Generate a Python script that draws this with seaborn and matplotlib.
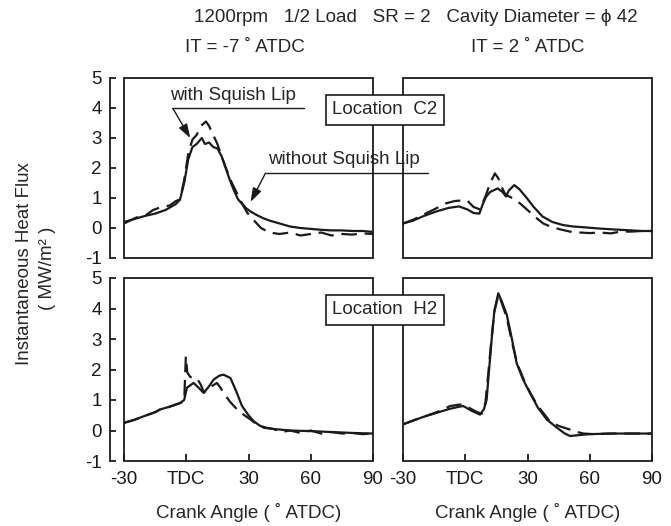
import numpy as np
import pandas as pd
import seaborn as sns
import matplotlib.pyplot as plt
from matplotlib.patches import Rectangle

sns.set_theme(style="white")
plt.rcParams['font.family'] = ['Liberation Sans', 'DejaVu Sans']

# ---- data (crank angle in deg ATDC, heat flux MW/m2) ----
# top-left: IT = -7 ATDC, location C2
c2_a_x_without = [-30, -25, -20, -15, -10, -5, -3, -1, 1, 3, 5, 7.5, 9, 11, 13, 15, 17, 19, 21, 23, 25, 27, 29, 31,
                  34, 37, 40, 45, 50, 55, 60, 65, 70, 75, 80, 85, 90]
c2_a_y_without = [0.2, 0.3, 0.4, 0.48, 0.6, 0.8, 0.95, 1.5, 2.3, 2.7, 2.8, 3.0, 2.8, 2.85, 2.7, 2.65, 2.4, 2.0, 1.6,
                  1.25, 0.95, 0.8, 0.65, 0.55, 0.43, 0.33, 0.25, 0.15, 0.05, 0.0, -0.03, -0.06, -0.08, -0.08, -0.1,
                  -0.1, -0.13]
c2_a_x_with = [-30, -27, -24, -20, -16, -12, -8, -5, -3, -1, 1, 3, 5, 7, 9.5, 11, 13, 15, 17, 19.5, 22, 24.5, 27, 29.5,
               32, 36, 40, 45, 50, 55, 60, 65, 70, 75, 80, 85, 90]
c2_a_y_with = [0.15, 0.25, 0.35, 0.4, 0.6, 0.7, 0.75, 0.9, 0.95, 1.6, 2.5, 2.95, 3.1, 3.4, 3.55, 3.4, 3.1, 2.8, 2.4,
               1.93, 1.5, 1.15, 0.8, 0.5, 0.3, 0.0, -0.15, -0.2, -0.15, -0.25, -0.2, -0.15, -0.25, -0.2, -0.22,
               -0.18, -0.2]

# top-right: IT = 2 ATDC, location C2
c2_b_x_without = [-30, -25, -20, -14, -8, -3, 1, 4, 6.8, 8.5, 10, 12, 15.6, 18, 19.6, 21, 23.6, 26, 29.2, 33, 37.3,
                  42, 47, 52, 58, 65, 72, 80, 85, 90]
c2_b_y_without = [0.15, 0.25, 0.4, 0.55, 0.67, 0.72, 0.62, 0.5, 0.48, 0.8, 1.04, 1.2, 1.32, 1.2, 1.05, 1.25, 1.43,
                  1.3, 1.04, 0.7, 0.38, 0.2, 0.1, 0.05, 0.02, -0.02, -0.05, -0.08, -0.1, -0.1]
c2_b_x_with = [-30, -25, -20, -15, -9.4, -5, 0.7, 4, 7.1, 10, 12, 14.3, 16, 18, 19.5, 21.5, 24, 26.4, 30, 34, 37.6,
               42, 46, 50.5, 55, 60, 65, 70, 75, 80, 85, 90]
c2_b_y_with = [0.15, 0.28, 0.45, 0.62, 0.82, 0.9, 0.93, 0.7, 0.62, 1.1, 1.5, 1.82, 1.65, 1.3, 1.1, 1.04, 0.95, 0.82,
               0.6, 0.35, 0.15, 0.02, -0.05, -0.12, -0.15, -0.17, -0.15, -0.18, -0.12, -0.12, -0.1, -0.1]

# bottom-left: IT = -7 ATDC, location H2
h2_a_x_without = [-30, -25, -20, -15, -12.6, -8, -3, -1, 0.3, 3.5, 6, 8.4, 11, 13.2, 16, 18, 21.3, 24, 26.9, 30,
                  32.6, 35, 37.4, 42, 50, 60, 70, 80, 90]
h2_a_y_without = [0.25, 0.35, 0.48, 0.6, 0.69, 0.78, 0.9, 1.0, 1.4, 1.56, 1.4, 1.23, 1.45, 1.67, 1.8, 1.83, 1.72,
                  1.3, 0.8, 0.5, 0.3, 0.18, 0.09, 0.05, 0.0, -0.02, -0.05, -0.08, -0.1]
h2_a_x_with = [-30, -25, -20, -15, -12.6, -8, -3, -1, -0.2, 0.5, 2, 5.1, 7, 8.5, 11, 14.8, 16.5, 18, 21, 24.5, 28,
               31, 34, 38, 42, 46, 50, 55, 60, 65, 70, 75, 80, 85, 90]
h2_a_y_with = [0.25, 0.35, 0.48, 0.6, 0.69, 0.78, 0.9, 0.95, 2.43, 1.9, 1.75, 1.72, 1.5, 1.25, 1.4, 1.56, 1.4, 1.23,
               0.95, 0.69, 0.5, 0.36, 0.2, 0.1, 0.05, -0.05, 0.0, -0.08, 0.0, -0.1, -0.05, -0.1, -0.08, -0.12, -0.1]

# bottom-right: IT = 2 ATDC, location H2
h2_b_x_without = [-30, -25, -20, -13.8, -8, -3, -0.9, 3, 7.1, 9, 10.3, 11.5, 12.7, 14, 15.9, 17.5, 20, 22.5, 24.8,
                  28, 31.2, 35, 39.3, 44, 48, 50.5, 55, 60, 70, 80, 90]
h2_b_y_without = [0.2, 0.33, 0.45, 0.58, 0.7, 0.78, 0.8, 0.65, 0.52, 0.7, 1.01, 2.0, 2.97, 3.9, 4.5, 4.25, 3.8, 3.0,
                  2.2, 1.65, 1.23, 0.75, 0.36, 0.1, -0.1, -0.18, -0.15, -0.12, -0.1, -0.1, -0.1]
h2_b_x_with = [-30, -25, -20, -13.8, -7.3, -3, 0, 3, 5.8, 8, 9.7, 11, 12.5, 14, 16, 17.5, 20, 22.5, 25, 28, 31.2, 35,
               40.8, 45, 50.5, 54, 57, 62, 70, 80, 90]
h2_b_y_with = [0.2, 0.33, 0.45, 0.6, 0.8, 0.85, 0.83, 0.7, 0.6, 0.55, 0.9, 1.8, 2.9, 3.9, 4.45, 4.2, 3.7, 2.9, 2.2,
               1.7, 1.25, 0.8, 0.3, 0.15, 0.03, -0.05, -0.1, -0.12, -0.1, -0.1, -0.1]

xticks = [-30, 0, 30, 60, 90]
xtick_labels = ['-30', 'TDC', '30', '60', '90']
yticks = [-1, 0, 1, 2, 3, 4, 5]

panels = [
    (c2_a_x_without, c2_a_y_without, c2_a_x_with, c2_a_y_with),
    (c2_b_x_without, c2_b_y_without, c2_b_x_with, c2_b_y_with),
    (h2_a_x_without, h2_a_y_without, h2_a_x_with, h2_a_y_with),
    (h2_b_x_without, h2_b_y_without, h2_b_x_with, h2_b_y_with),
]

W, H = 671, 526
fig = plt.figure(figsize=(W / 100, H / 100), dpi=100)


def px_axes(l, t, r, b):
    return fig.add_axes([l / W, 1 - b / H, (r - l) / W, (b - t) / H])


axes = [px_axes(124, 78, 373, 258), px_axes(403, 78, 652, 258),
        px_axes(124, 278, 373, 461), px_axes(403, 278, 652, 461)]

fs = 13.5
for i, ax in enumerate(axes):
    xs, ys, xw, yw = panels[i]
    ax.patch.set_visible(False)
    sns.lineplot(x=xs, y=ys, ax=ax, color='k', lw=1.6, sort=False)
    sns.lineplot(x=xw, y=yw, ax=ax, color='k', lw=1.6, sort=False)
    ax.lines[-1].set_dashes([7, 3.5])
    ax.set_xlim(-30, 90)
    ax.set_ylim(-1, 5)
    for s in ax.spines.values():
        s.set_visible(False)
    ax.add_patch(Rectangle((0, 0), 1, 1, transform=ax.transAxes, fill=False, ec='k', lw=1.3, clip_on=False,
                           zorder=3))
    left = i in (0, 2)
    bottom = i in (2, 3)
    if left:
        ax.spines['left'].set_visible(True)
        ax.spines['left'].set_position(('outward', 10))
        ax.spines['left'].set_color('k')
        ax.spines['left'].set_linewidth(1.3)
        ax.set_yticks(yticks)
        ax.set_yticklabels([str(v) for v in yticks], fontsize=fs)
        ax.tick_params(axis='y', direction='in', length=4, width=1.3, pad=6, colors='k', left=True)
    else:
        ax.set_yticks([])
    if bottom:
        ax.set_xticks(xticks)
        ax.set_xticklabels(xtick_labels, fontsize=fs)
        ax.tick_params(axis='x', direction='in', length=5, width=1.3, pad=7, colors='k', bottom=True)
        ax.set_xlabel('Crank Angle ( ˚ ATDC)', fontsize=fs, labelpad=11)
    else:
        ax.set_xticks([])
    ax.set_ylabel('')

# annotations with arrows on the top-left panel
ax = axes[0]
ax.text(-7.7, 4.43, 'with Squish Lip', fontsize=fs, va='center', ha='left', clip_on=False)
ax.plot([-6.8, 56.6], [4.0, 4.0], color='k', lw=1, clip_on=False)
ax.annotate('', xy=(1.9, 3.0), xytext=(-6.3, 3.97),
            arrowprops=dict(arrowstyle='-|>,head_length=0.6,head_width=0.2', color='k', lw=1,
                            mutation_scale=14, shrinkA=0, shrinkB=0))
ax.text(39.2, 2.3, 'without Squish Lip', fontsize=fs, va='center', ha='left', clip_on=False, zorder=5)
ax.plot([38.2, 116.6], [1.83, 1.83], color='k', lw=1, clip_on=False)
ax.annotate('', xy=(31, 0.87), xytext=(38.2, 1.83),
            arrowprops=dict(arrowstyle='-|>,head_length=0.6,head_width=0.2', color='k', lw=1,
                            mutation_scale=14, shrinkA=0, shrinkB=0))

box = dict(boxstyle='square,pad=0.35', fc='white', ec='k', lw=1.2)
fig.text(385 / W, 1 - 110 / H, 'Location  C2', fontsize=fs, ha='center', va='center', bbox=box, zorder=10)
fig.text(385 / W, 1 - 310 / H, 'Location  H2', fontsize=fs, ha='center', va='center', bbox=box, zorder=10)

fig.text(416 / W, 1 - 18 / H, '1200rpm   1/2 Load   SR = 2   Cavity Diameter = ϕ 42', fontsize=fs,
         ha='center', va='center')
fig.text(245 / W, 1 - 47 / H, 'IT = -7 ˚ ATDC', fontsize=fs, ha='center', va='center')
fig.text(528 / W, 1 - 47 / H, 'IT = 2 ˚ ATDC', fontsize=fs, ha='center', va='center')

fig.text(25 / W, 1 - 264 / H, 'Instantaneous Heat Flux', fontsize=fs, rotation=90, ha='center', va='center')
fig.text(48 / W, 1 - 268 / H, '( MW/m² )', fontsize=fs, rotation=90, ha='center', va='center')

plt.savefig('out.png', dpi=100)
